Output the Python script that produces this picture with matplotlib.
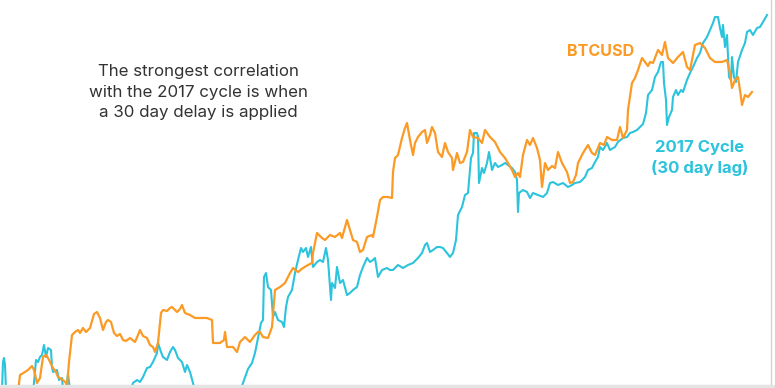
import matplotlib
matplotlib.use("Agg")
import matplotlib.pyplot as plt
from matplotlib.patches import Rectangle

# ---- data (time index, relative price level) ----
btc_x = [18, 20, 25, 28, 32, 34, 37, 40, 43, 46, 48, 50, 53, 56, 58, 63, 66, 67, 69, 72,
         75, 78, 80, 83, 86, 90, 94, 97, 100, 103, 106, 108, 111, 114, 117, 120, 123, 126, 130, 135,
         138, 140, 143, 147, 150, 153, 155, 158, 161, 163, 167, 170, 172, 175, 177, 180, 182, 185, 190, 195,
         200, 207, 212, 213, 217, 220, 224, 225, 227, 233, 237, 240, 245, 250, 255, 258, 260, 263, 268, 272,
         275, 280, 285, 290, 293, 298, 303, 308, 312, 313, 317, 320, 322, 325, 330, 335, 340, 342, 347, 350,
         353, 357, 360, 363, 367, 372, 373, 377, 380, 383, 388, 392, 393, 395, 398, 402, 405, 407, 410, 413,
         415, 418, 422, 425, 427, 430, 432, 435, 438, 442, 445, 448, 452, 453, 457, 460, 463, 467, 470, 473,
         478, 482, 485, 490, 495, 500, 505, 508, 512, 515, 518, 520, 523, 527, 530, 533, 537, 540, 542, 545,
         548, 552, 555, 558, 562, 567, 570, 573, 576, 578, 583, 588, 592, 595, 600, 604, 607, 612, 617, 620,
         623, 627, 628, 632, 635, 638, 642, 645, 648, 650, 653, 658, 662, 665, 668, 673, 678, 683, 687, 690,
         695, 700, 705, 710, 715, 722, 727, 730, 732, 735, 738, 740, 742, 745, 748, 752]
btc_y = [-7, 10, 13, 15, 19, 15, 2, 7, 28, 30, 27, 23, 17, 13, 8, 5, 2, -1, 23, 50,
         53, 55, 52, 57, 53, 57, 71, 73, 67, 55, 63, 65, 63, 52, 49, 51, 45, 44, 47, 43,
         50, 55, 49, 47, 40, 38, 33, 42, 72, 75, 74, 77, 78, 75, 73, 76, 80, 72, 70, 67,
         67, 67, 65, 42, 42, 42, 45, 53, 38, 38, 33, 43, 48, 43, 50, 53, 53, 48, 47, 58,
         95, 98, 102, 112, 117, 113, 117, 120, 122, 132, 152, 149, 147, 145, 150, 148, 152, 147, 165, 155,
         145, 143, 133, 135, 148, 150, 148, 168, 185, 188, 188, 187, 213, 227, 230, 247, 257, 262, 245, 230,
         242, 248, 253, 255, 242, 250, 258, 252, 233, 228, 242, 233, 227, 215, 232, 222, 223, 233, 255, 248,
         247, 242, 255, 248, 243, 233, 227, 222, 215, 208, 212, 208, 230, 245, 240, 247, 237, 225, 198, 222,
         215, 219, 217, 233, 222, 213, 202, 203, 210, 222, 232, 240, 232, 230, 242, 240, 248, 245, 245, 258,
         247, 255, 275, 302, 307, 315, 327, 323, 319, 323, 322, 335, 330, 343, 327, 322, 328, 333, 318, 315,
         340, 342, 337, 327, 323, 323, 325, 312, 297, 305, 308, 295, 280, 290, 288, 293]

cyc_x = [0, 2, 3, 4, 5, 6, 33, 34, 36, 38, 40, 42, 44, 46, 48, 51, 52, 53, 57, 59,
         62, 63, 66, 68, 70, 130, 133, 137, 140, 143, 147, 150, 153, 157, 158, 161, 163, 167, 170, 173,
         175, 178, 182, 185, 187, 190, 193, 195, 240, 243, 248, 252, 255, 258, 261, 263, 264, 266, 268, 271,
         273, 275, 278, 282, 284, 286, 288, 292, 295, 298, 301, 303, 306, 308, 311, 313, 317, 320, 323, 326,
         328, 331, 332, 335, 337, 340, 343, 347, 350, 353, 357, 360, 363, 367, 370, 373, 375, 378, 382, 387,
         390, 393, 398, 403, 408, 413, 418, 422, 425, 427, 430, 433, 437, 440, 443, 447, 450, 453, 456, 458,
         462, 465, 468, 471, 473, 474, 477, 478, 479, 482, 484, 487, 489, 492, 495, 498, 502, 505, 508, 512,
         515, 517, 518, 519, 523, 527, 530, 533, 538, 543, 547, 550, 553, 558, 563, 568, 572, 575, 580, 585,
         588, 592, 595, 598, 600, 603, 607, 610, 615, 618, 623, 627, 630, 633, 637, 640, 643, 646, 648, 652,
         655, 658, 661, 663, 664, 666, 667, 669, 672, 673, 676, 678, 681, 683, 687, 690, 693, 697, 700, 703,
         707, 710, 713, 715, 718, 720, 722, 723, 725, 727, 729, 731, 732, 734, 736, 738, 742, 745, 747, 750,
         753, 757, 760, 763, 767]
cyc_y = [-7, -5, 23, 27, 20, -5, -5, 2, 25, 23, 28, 30, 40, 28, 37, 35, 18, 13, 15, 5,
         7, -5, -5, 11, -5, -7, 2, 5, 3, 8, 17, 18, 23, 32, 42, 33, 28, 25, 33, 38,
         35, 27, 23, 13, 20, 13, 2, -7, -7, 2, 16, 22, 32, 47, 62, 65, 108, 112, 98, 95,
         68, 73, 65, 63, 58, 78, 88, 95, 112, 125, 137, 133, 137, 128, 138, 118, 123, 125, 123, 137,
         125, 85, 102, 97, 118, 102, 105, 90, 92, 95, 98, 110, 118, 127, 123, 125, 127, 108, 115, 117,
         115, 115, 120, 117, 120, 122, 127, 132, 140, 142, 133, 135, 138, 138, 137, 132, 128, 132, 145, 170,
         178, 190, 192, 227, 232, 252, 252, 248, 202, 217, 212, 222, 233, 215, 222, 218, 220, 222, 220, 217,
         213, 205, 173, 192, 195, 193, 187, 192, 190, 188, 192, 202, 203, 200, 202, 198, 200, 202, 203, 208,
         215, 217, 223, 228, 238, 235, 242, 235, 238, 243, 247, 248, 252, 253, 255, 258, 261, 272, 290, 295,
         308, 313, 323, 323, 302, 285, 260, 268, 275, 288, 295, 290, 295, 293, 305, 312, 318, 327, 332, 342,
         348, 355, 362, 368, 368, 357, 348, 360, 338, 350, 308, 305, 328, 308, 303, 323, 335, 342, 353, 355,
         350, 357, 358, 363, 370]

ORANGE = "#fb9a24"
CYAN = "#2cc3dd"

W, H = 775, 388
fig = plt.figure(figsize=(W / 100, H / 100), dpi=100)
fig.patch.set_facecolor("white")

# light grey strip under the plot frame
fig.patches.append(Rectangle((0, 0), 1, 3 / H, transform=fig.transFigure,
                             facecolor="#e4e4e4", edgecolor="none", zorder=0))

ax = fig.add_axes([0, 3 / H, 771 / W, 385 / H])
ax.set_xlim(0, 771)
ax.set_ylim(0, 385)
ax.plot(cyc_x, cyc_y, color=CYAN, lw=1.5, solid_joinstyle="round", zorder=2)
ax.plot(btc_x, btc_y, color=ORANGE, lw=1.6, solid_joinstyle="round", zorder=3)

for s in ["top", "left"]:
    ax.spines[s].set_visible(False)
for s in ["right", "bottom"]:
    ax.spines[s].set_color("#d4d4d4")
    ax.spines[s].set_linewidth(1.0)
ax.set_xticks([])
ax.set_yticks([])
ax.set_facecolor("white")

font = ["Inter", "DejaVu Sans"]

def fx(px):
    return px / W

def fy(py):
    return 1 - py / H

fig.text(fx(198), fy(92), "The strongest correlation\nwith the 2017 cycle is when\na 30 day delay is applied",
         ha="center", va="center", fontsize=12.2, color="#333333", family=font,
         linespacing=1.42)
fig.text(fx(601), fy(52), "BTCUSD", ha="center", va="center", fontsize=11.6,
         fontweight="bold", color=ORANGE, family=font)
fig.text(fx(700), fy(158), "2017 Cycle\n(30 day lag)", ha="center", va="center",
         fontsize=12, fontweight="bold", color=CYAN, family=font, linespacing=1.33)

fig.savefig("out.png", dpi=100, facecolor="white")
